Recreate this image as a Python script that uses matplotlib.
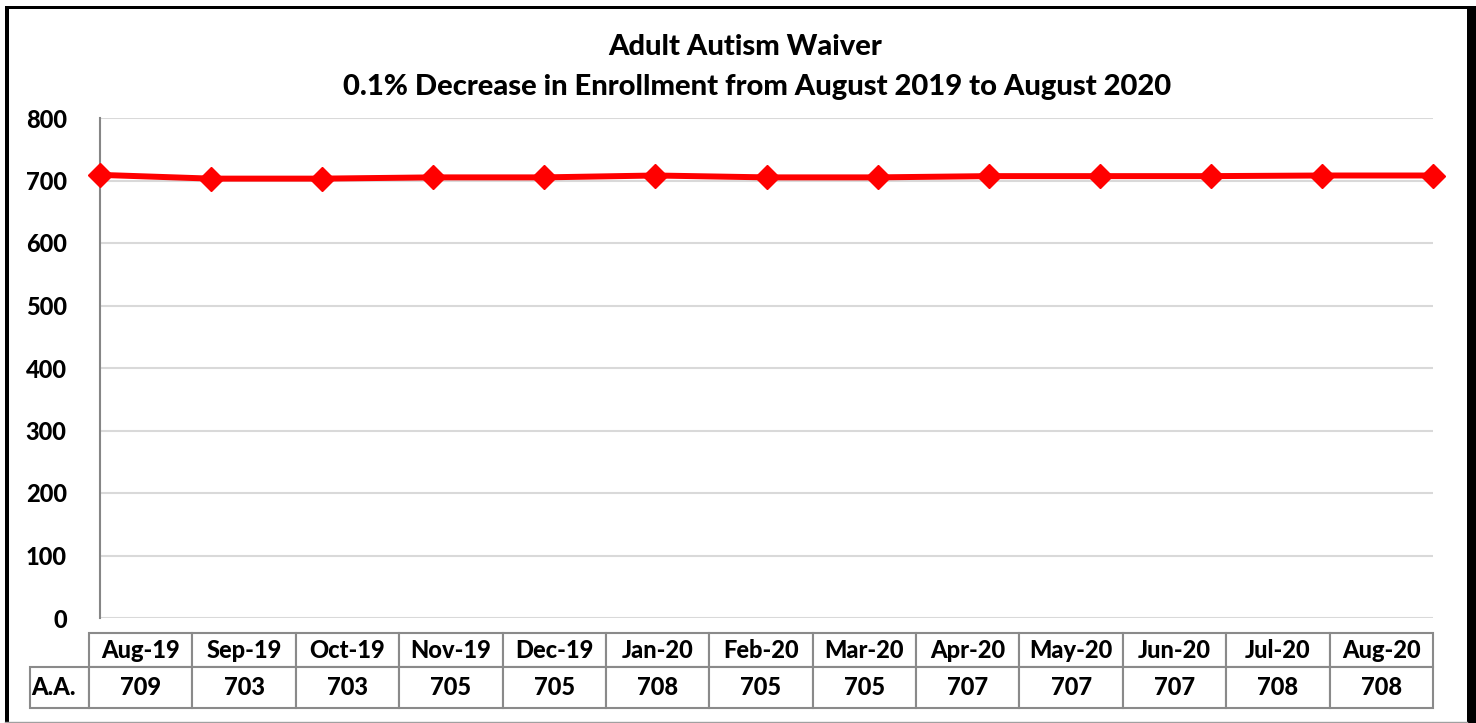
import numpy as np
import matplotlib
matplotlib.use("Agg")
import matplotlib.pyplot as plt
from matplotlib.table import Table
from matplotlib.lines import Line2D
from matplotlib.patches import Rectangle

# data
months = ["Aug-19", "Sep-19", "Oct-19", "Nov-19", "Dec-19", "Jan-20", "Feb-20",
          "Mar-20", "Apr-20", "May-20", "Jun-20", "Jul-20", "Aug-20"]
enrollment = [709, 703, 703, 705, 705, 708, 705, 705, 707, 707, 707, 708, 708]
row_label = "A.A."
title_lines = ["Adult Autism Waiver",
               "0.1% Decrease in Enrollment from August 2019 to August 2020"]
y_ticks = [0, 100, 200, 300, 400, 500, 600, 700, 800]

W, H = 1476, 723
WT = 'black'
plt.rcParams['font.family'] = ['Lato', 'DejaVu Sans']
plt.rcParams['font.weight'] = WT

fig = plt.figure(figsize=(W / 100, H / 100), dpi=100)

def fx(px):
    return px / W

def fy(py):
    return 1 - py / H

# main plot area
ax = fig.add_axes([fx(100), fy(618), fx(1433) - fx(100), fy(118) - fy(618)])
x = np.arange(len(months))
ax.plot(x, enrollment, color='#ff0000', lw=4.3, marker='D', ms=12,
        mec='#ff0000', mfc='#ff0000', zorder=3, clip_on=False)
ax.set_xlim(0, len(months) - 1)
ax.set_ylim(0, 800)
ax.set_yticks(y_ticks)
ax.set_yticklabels([str(v) for v in y_ticks], fontsize=17, fontweight=WT)
ax.set_xticks([])
ax.tick_params(axis='y', length=0, pad=24)
ax.grid(axis='y', color='#d9d9d9', lw=1.5)
ax.set_axisbelow(True)
for s in ['top', 'right', 'bottom']:
    ax.spines[s].set_visible(False)
ax.spines['left'].set_color('#868686')
ax.spines['left'].set_linewidth(1.5)

# data table under the plot
tax = fig.add_axes([fx(30), fy(708), fx(1433) - fx(30), fy(633) - fy(708)])
tax.axis('off')
tab = Table(tax, bbox=[0, 0, 1, 1])
lab_w = 59
col_w = (1433 - 89) / len(months)
h_head, h_data = 34, 41
tab.add_cell(0, 0, width=lab_w, height=h_head, text='')
tab[0, 0].set_edgecolor('none')
for j, m in enumerate(months):
    tab.add_cell(0, j + 1, width=col_w, height=h_head, text=m, loc='center')
tab.add_cell(1, 0, width=lab_w, height=h_data, text=row_label, loc='left')
for j, v in enumerate(enrollment):
    tab.add_cell(1, j + 1, width=col_w, height=h_data, text=str(v), loc='center')
for (r, c), cell in tab.get_celld().items():
    if not (r == 0 and c == 0):
        cell.set_edgecolor('#8a8a8a')
        cell.set_linewidth(1.5)
    cell.get_text().set_fontsize(17)
    cell.get_text().set_fontweight(WT)
    cell.PAD = 0.02
tab.auto_set_font_size(False)
tax.add_table(tab)

# title
fig.text(fx(745), fy(47), title_lines[0], ha='center', va='center',
         fontsize=21, fontweight=WT)
fig.text(fx(757), fy(87), title_lines[1], ha='center', va='center',
         fontsize=21, fontweight=WT)

# outer frame
fig.add_artist(Rectangle((fx(5), 0), fx(4), 1 - 0 - (6 / H), transform=fig.transFigure,
                         color='black', lw=0))
fig.add_artist(Rectangle((fx(5), fy(9)), fx(1476) - fx(5), 3 / H,
                         transform=fig.transFigure, color='black', lw=0))
fig.add_artist(Rectangle((fx(1467), 0), fx(9), fy(6), transform=fig.transFigure,
                         color='black', lw=0))
fig.add_artist(Line2D([fx(5), fx(1467)], [fy(721.5), fy(721.5)],
                      transform=fig.transFigure, color='#a0a0a0', lw=1))

fig.savefig("out.png", dpi=100)
